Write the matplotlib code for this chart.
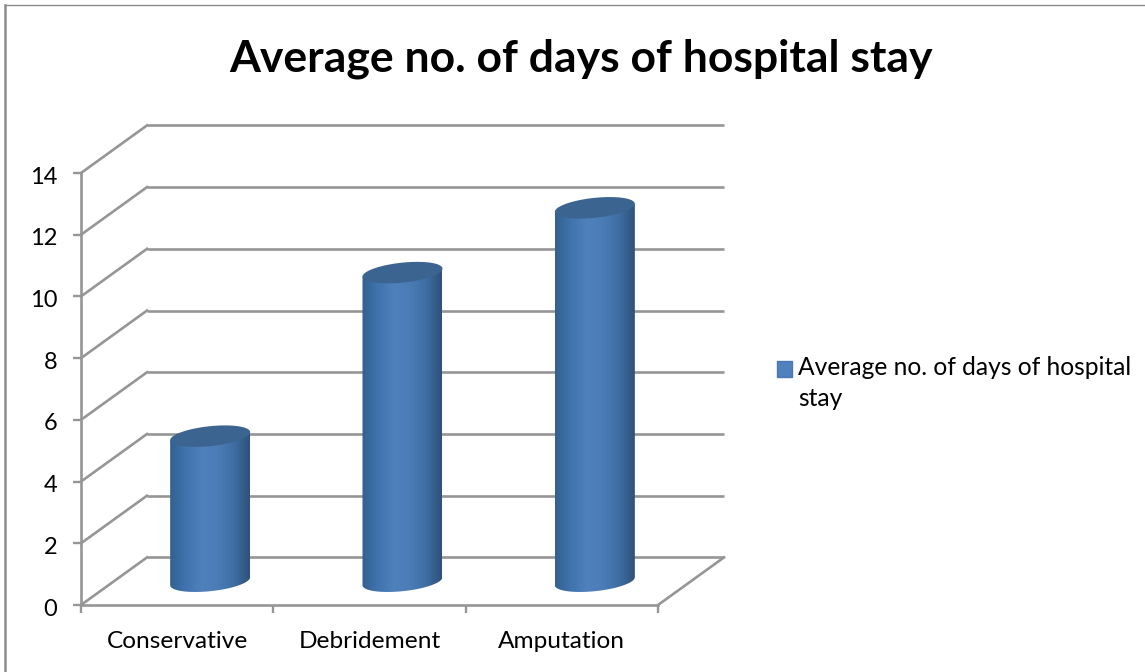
import numpy as np
import matplotlib
matplotlib.use("Agg")
import matplotlib.pyplot as plt
from matplotlib.colors import LinearSegmentedColormap
from matplotlib.patches import Patch, Polygon
from matplotlib.transforms import ScaledTranslation

categories = ["Conservative", "Debridement", "Amputation"]
avg_days = [4.7, 10.0, 12.1]
y_ticks = [0, 2, 4, 6, 8, 10, 12, 14]
title = "Average no. of days of hospital stay"
legend_label = "Average no. of days of hospital\nstay"

W, H = 1145, 672
GRID = "#969696"
plt.rcParams["font.family"] = ["Lato", "DejaVu Sans"]

fig = plt.figure(figsize=(W / 100, H / 100), dpi=100, facecolor="white")

# Axes span the front plane of the 3D box
left, right, bottom, top = 81, 658, 605, 173
ax = fig.add_axes([left / W, 1 - bottom / H, (right - left) / W, (bottom - top) / H])
ax.set_xlim(0, len(categories))
ax.set_ylim(0, 14)
ax.patch.set_alpha(0)

# Depth of the box expressed in data units
depth_x = 66 / ((right - left) / len(categories))
depth_y = 47.6 / ((bottom - top) / 14)

# Back-wall gridlines and the diagonals joining them to the front axis
for v in y_ticks:
    ax.plot([depth_x, len(categories) + depth_x], [v + depth_y] * 2,
            color=GRID, lw=1.9, clip_on=False, zorder=1, solid_capstyle="butt")
    ax.plot([0, depth_x], [v, v + depth_y], color=GRID, lw=1.9, clip_on=False, zorder=1)
ax.plot([len(categories), len(categories) + depth_x], [0, depth_y],
        color=GRID, lw=1.9, clip_on=False, zorder=1)

# Axis lines, ticks and labels
for name, spine in ax.spines.items():
    spine.set_visible(name in ("left", "bottom"))
    spine.set_color(GRID)
    spine.set_linewidth(1.9)
ax.set_yticks(y_ticks)
ax.set_xticks(range(len(categories) + 1))
ax.set_xticklabels([])
ax.set_xticks(np.arange(len(categories)) + 0.5, labels=categories, minor=True)
ax.tick_params(axis="y", length=6, width=1.7, color=GRID, labelsize=17, pad=11,
               labelcolor="black")
ax.tick_params(axis="x", which="major", length=6, width=1.7, color=GRID)
ax.tick_params(axis="x", which="minor", length=0, labelsize=17.6, pad=19, labelcolor="black")
nudge = ScaledTranslation(0, -1.5 / 72, fig.dpi_scale_trans)
for label in ax.get_yticklabels():
    label.set_transform(label.get_transform() + nudge)

# Shaded cylinders
shade = LinearSegmentedColormap.from_list(
    "cyl", ["#32608f", "#4174ae", "#4f81bd", "#4b7cb6", "#3f6ea4", "#2f5178"])
half_w = 40 / ((right - left) / len(categories))
px_y = (bottom - top) / 14
tilt, minor_r = 4 / px_y, 10 / px_y
t = np.linspace(0, 2 * np.pi, 121)
base = depth_y / 2

for i, v in enumerate(avg_days):
    cx = i + 0.5 + depth_x / 2
    ex = cx + half_w * np.cos(t)
    dy = tilt * np.cos(t) + minor_r * np.sin(t)
    front = t >= np.pi
    order = np.argsort(ex[front])
    low_x, low_y = ex[front][order], base + dy[front][order]
    body = np.column_stack([
        np.r_[low_x, cx + half_w, cx - half_w],
        np.r_[low_y, base + v + tilt, base + v - tilt],
    ])
    poly = Polygon(body, closed=True, transform=ax.transData, facecolor="none", edgecolor="none")
    ax.add_patch(poly)
    img = ax.imshow(np.linspace(0, 1, 256)[None, :], cmap=shade, aspect="auto", zorder=3,
                    extent=[cx - half_w, cx + half_w, base - 1, base + v + 1])
    img.set_clip_path(poly)
    ax.fill(ex, base + v + dy, color="#3c6491", lw=0, zorder=4, clip_on=False)
ax.set_xlim(0, len(categories))
ax.set_ylim(0, 14)

# Chart frame: left and top edges only
fig.add_artist(plt.Line2D([5 / W, 5 / W], [0, 1 - 5 / H], color="#8c8c8c", lw=1.8))
fig.add_artist(plt.Line2D([5 / W, 1], [1 - 5 / H, 1 - 5 / H], color="#8c8c8c", lw=1))

fig.text(581 / W, 1 - 58.5 / H, title, ha="center", va="center",
         fontsize=32, fontweight="bold", color="black")

legend = fig.legend(handles=[Patch(facecolor="#4f81bd", edgecolor="#4a78b0", label=legend_label)],
                    loc="upper left", bbox_to_anchor=(767 / W, 1 - 346 / H), frameon=False,
                    fontsize=17.7, handlelength=0.61, handleheight=0.61, handletextpad=0.24,
                    labelcolor="black", borderaxespad=0, borderpad=0.4)
for text in legend.get_texts():
    text.set_linespacing(1.456)
# Raise the swatch so it sits beside the first line of the wrapped label
handle = legend.legend_handles[0]
handle.set_y(handle.get_y() + 11)

fig.savefig("out.png", dpi=100)
